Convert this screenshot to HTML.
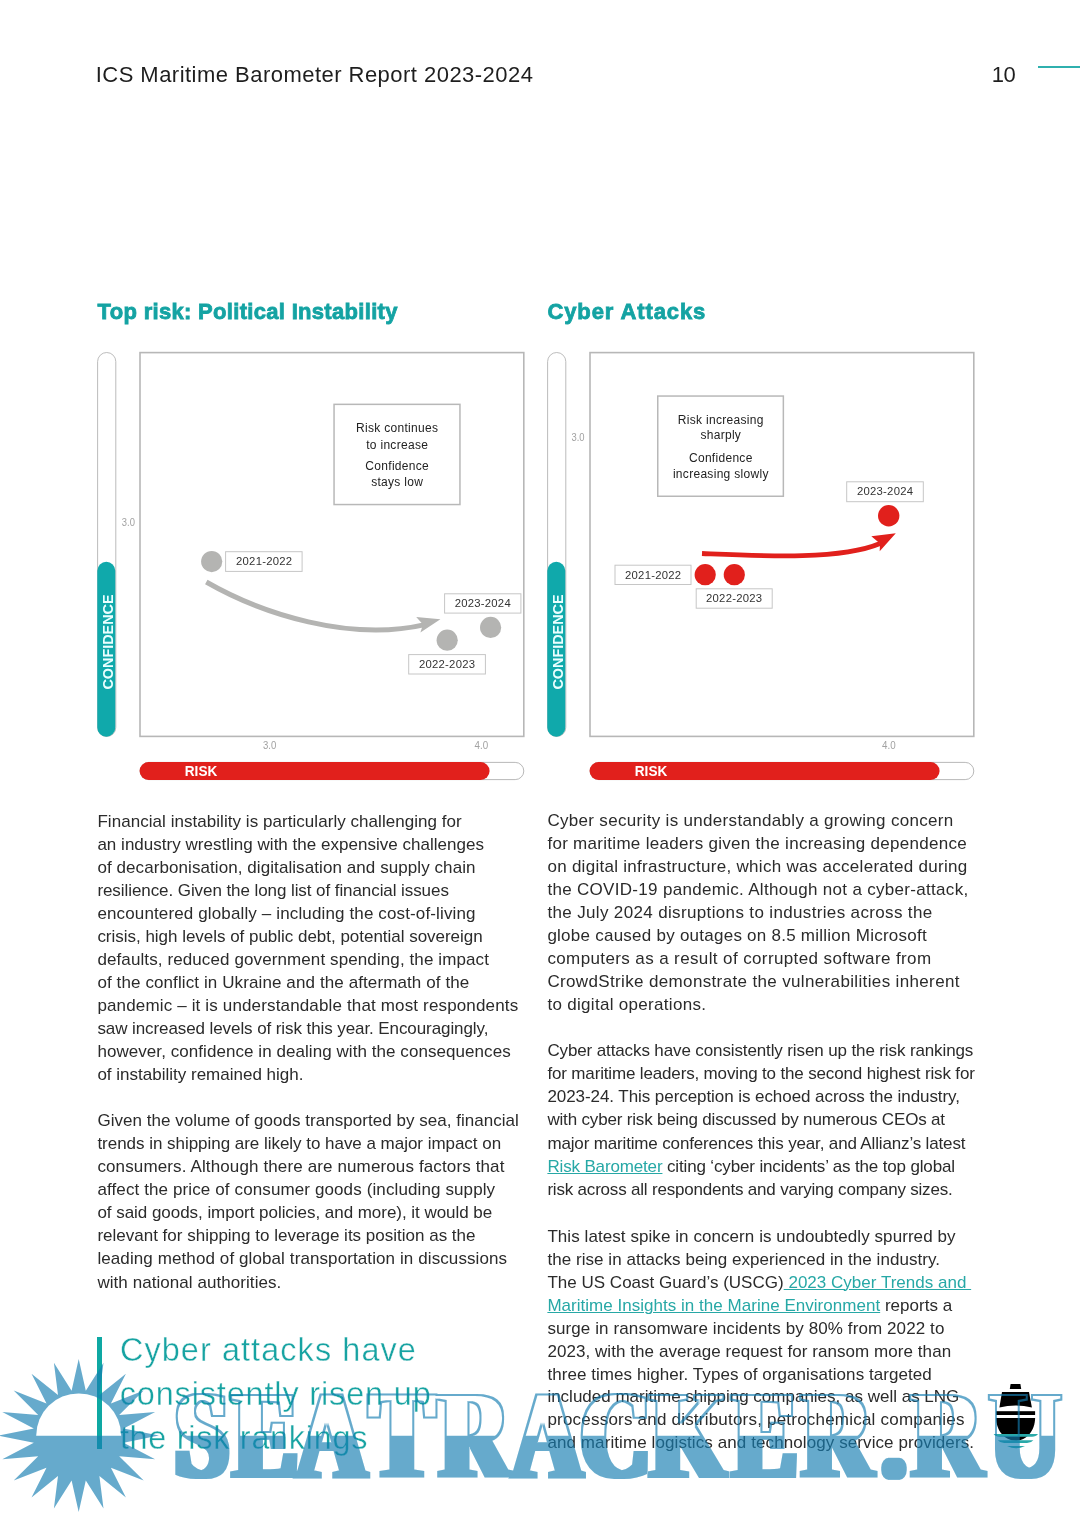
<!DOCTYPE html>
<html lang="en">
<head>
<meta charset="utf-8">
<title>ICS Maritime Barometer Report 2023-2024 – page 10</title>
<style>
html,body{margin:0;padding:0;background:#fff;}
body{width:1080px;height:1515px;position:relative;overflow:hidden;font-family:"Liberation Sans",sans-serif;color:#2a2a2a;}
#page{position:absolute;left:0;top:0;width:1080px;height:1515px;overflow:hidden;background:#fff;will-change:transform;}
.abs{position:absolute;white-space:nowrap;}
.hdr{font-size:22px;line-height:28px;color:#1e1e1e;}
.h2{font-weight:bold;font-size:22px;line-height:28px;color:#14a3a3;-webkit-text-stroke:0.8px #14a3a3;}
.ln{position:absolute;white-space:pre;font-size:17px;line-height:23px;color:#2b2b2b;}
.lk{color:#27a8a6;text-decoration:underline;text-decoration-thickness:1px;text-underline-offset:1.3px;}
.q{position:absolute;white-space:nowrap;font-size:32.4px;line-height:44px;color:#17a3a2;-webkit-text-stroke:0.4px #fff;}
svg{position:absolute;left:0;top:0;overflow:visible;}
svg text{font-family:"Liberation Sans",sans-serif;}
#wm text{font-family:"Liberation Serif",serif;font-weight:bold;}
</style>
</head>
<body>
<div id="page">
<div class="abs hdr" id="hdr" style="left:95.7px;top:61.4px;letter-spacing:0.47px">ICS Maritime Barometer Report 2023-2024</div>
<div class="abs hdr" id="pgn" style="left:991.8px;top:61.4px;letter-spacing:-0.6px">10</div>
<div class="abs" style="left:1038px;top:66.2px;width:42px;height:2px;background:#2fb0ae"></div>
<div class="abs h2" id="h2a" style="left:97.6px;top:298.2px;letter-spacing:0.31px">Top risk: Political Instability</div>
<div class="abs h2" id="h2b" style="left:547.4px;top:298.2px;letter-spacing:0.9px">Cyber Attacks</div>
<svg id="charts" width="1080" height="1515" viewBox="0 0 1080 1515">
<defs>
  <g id="frame">
    <!-- vertical confidence pill -->
    <rect x="97.6" y="352.5" width="18.2" height="384" rx="9.1" fill="#fff" stroke="#b4b4b4" stroke-width="0.9"/>
    <rect x="97.3" y="561.8" width="18" height="174.9" rx="9" fill="#10a9ab"/>
    <text transform="translate(113.2 689.6) rotate(-90)" font-size="15.4" font-weight="bold" fill="#eaffff" textLength="95.2" lengthAdjust="spacingAndGlyphs">CONFIDENCE</text>
    <!-- plot box -->
    <rect x="140" y="352.6" width="383.8" height="383.8" fill="none" stroke="#b7b7b7" stroke-width="1.6"/>
    <!-- risk pill -->
    <rect x="140" y="762.4" width="383.8" height="17.2" rx="8.6" fill="#fff" stroke="#b0b0b0" stroke-width="0.9"/>
    <rect x="139.6" y="762" width="350" height="18" rx="9" fill="#e1201c"/>
    <text x="184.8" y="775.5" font-size="15" font-weight="bold" fill="#fff" textLength="32.5" lengthAdjust="spacingAndGlyphs">RISK</text>
  </g>
</defs>
<!-- ================= LEFT CHART ================= -->
<use href="#frame"/>
<g font-size="10.6" fill="#a2a2a2">
  <text x="121.8" y="525.7" textLength="13.1" lengthAdjust="spacingAndGlyphs">3.0</text>
  <text x="263" y="748.8" textLength="13.3" lengthAdjust="spacingAndGlyphs">3.0</text>
  <text x="474.5" y="748.6" textLength="13.6" lengthAdjust="spacingAndGlyphs">4.0</text>
</g>
<rect x="334.05" y="404.35" width="125.9" height="100.2" fill="#fff" stroke="#b8b8b8" stroke-width="1.5"/>
<g font-size="12" fill="#222" text-anchor="middle" letter-spacing="0.3">
  <text x="397.2" y="431.5">Risk continues</text>
  <text x="397.2" y="448.8">to increase</text>
  <text x="397.2" y="470">Confidence</text>
  <text x="397.2" y="485.6">stays low</text>
</g>
<path d="M206.3,582 C262,614 350,642 425,624.6" fill="none" stroke="#b4b4b2" stroke-width="5"/>
<polygon points="440.4,619.3 416.2,617 423,624.6 420.4,632.6" fill="#b4b4b2"/>
<circle cx="211.7" cy="561.6" r="10.6" fill="#b4b4b2"/>
<circle cx="447.2" cy="640.2" r="10.6" fill="#b4b4b2"/>
<circle cx="490.6" cy="627.4" r="10.6" fill="#b4b4b2"/>
<g fill="#fff" stroke="#c6c6c6" stroke-width="1">
  <rect x="225.6" y="551.7" width="76.5" height="19.7"/>
  <rect x="444.6" y="593.8" width="76.3" height="19.3"/>
  <rect x="408.7" y="654.6" width="76.7" height="19.4"/>
</g>
<g font-size="11.3" fill="#333" text-anchor="middle" letter-spacing="0.25">
  <text x="264.2" y="565.1">2021-2022</text>
  <text x="482.8" y="607">2023-2024</text>
  <text x="447.1" y="667.7">2022-2023</text>
</g>
<!-- ================= RIGHT CHART ================= -->
<use href="#frame" x="450"/>
<g font-size="10.6" fill="#a2a2a2">
  <text x="571.4" y="440.7" textLength="13.1" lengthAdjust="spacingAndGlyphs">3.0</text>
  <text x="882" y="748.6" textLength="13.6" lengthAdjust="spacingAndGlyphs">4.0</text>
</g>
<rect x="657.75" y="396.05" width="125.6" height="100.2" fill="#fff" stroke="#b8b8b8" stroke-width="1.5"/>
<g font-size="12" fill="#222" text-anchor="middle" letter-spacing="0.3">
  <text x="720.8" y="423.7">Risk increasing</text>
  <text x="720.8" y="439.3">sharply</text>
  <text x="720.8" y="461.8">Confidence</text>
  <text x="720.8" y="477.8">increasing slowly</text>
</g>
<path d="M702,553.5 C760,556 840,560.5 880,543.5" fill="none" stroke="#e1201c" stroke-width="4.8"/>
<polygon points="895.8,533.3 871.3,536.2 880,543.5 879.7,551.3" fill="#e1201c"/>
<circle cx="705.2" cy="574.7" r="10.6" fill="#e1201c"/>
<circle cx="734.3" cy="574.7" r="10.6" fill="#e1201c"/>
<circle cx="888.7" cy="515.8" r="10.7" fill="#e1201c"/>
<g fill="#fff" stroke="#c6c6c6" stroke-width="1">
  <rect x="615" y="565.2" width="76" height="19.3"/>
  <rect x="696.2" y="588.8" width="76" height="19.4"/>
  <rect x="846.7" y="481.8" width="76.6" height="19.9"/>
</g>
<g font-size="11.3" fill="#333" text-anchor="middle" letter-spacing="0.25">
  <text x="653.2" y="578.7">2021-2022</text>
  <text x="734.2" y="602">2022-2023</text>
  <text x="885.1" y="495">2023-2024</text>
</g>
</svg>
<div class="ln" style="left:97.4px;top:810px;letter-spacing:0.048px">Financial instability is particularly challenging for</div>
<div class="ln" style="left:97.4px;top:833px;letter-spacing:0.021px">an industry wrestling with the expensive challenges</div>
<div class="ln" style="left:97.4px;top:856px;letter-spacing:0.077px">of decarbonisation, digitalisation and supply chain</div>
<div class="ln" style="left:97.4px;top:879px;letter-spacing:-0.076px">resilience. Given the long list of financial issues</div>
<div class="ln" style="left:97.4px;top:902px;letter-spacing:0.134px">encountered globally – including the cost-of-living</div>
<div class="ln" style="left:97.4px;top:925px;letter-spacing:-0.022px">crisis, high levels of public debt, potential sovereign</div>
<div class="ln" style="left:97.4px;top:948px;letter-spacing:0.104px">defaults, reduced government spending, the impact</div>
<div class="ln" style="left:97.4px;top:971px;letter-spacing:0.105px">of the conflict in Ukraine and the aftermath of the</div>
<div class="ln" style="left:97.4px;top:994px;letter-spacing:0.150px">pandemic – it is understandable that most respondents</div>
<div class="ln" style="left:97.4px;top:1017px;letter-spacing:-0.087px">saw increased levels of risk this year. Encouragingly,</div>
<div class="ln" style="left:97.4px;top:1040px;letter-spacing:0.061px">however, confidence in dealing with the consequences</div>
<div class="ln" style="left:97.4px;top:1063px;letter-spacing:0.003px">of instability remained high.</div>
<div class="ln" style="left:97.4px;top:1109px;letter-spacing:0.035px">Given the volume of goods transported by sea, financial</div>
<div class="ln" style="left:97.4px;top:1132px;letter-spacing:-0.031px">trends in shipping are likely to have a major impact on</div>
<div class="ln" style="left:97.4px;top:1155px;letter-spacing:0.127px">consumers. Although there are numerous factors that</div>
<div class="ln" style="left:97.4px;top:1178px;letter-spacing:0.115px">affect the price of consumer goods (including supply</div>
<div class="ln" style="left:97.4px;top:1201px;letter-spacing:-0.039px">of said goods, import policies, and more), it would be</div>
<div class="ln" style="left:97.4px;top:1224px;letter-spacing:0.002px">relevant for shipping to leverage its position as the</div>
<div class="ln" style="left:97.4px;top:1247px;letter-spacing:0.098px">leading method of global transportation in discussions</div>
<div class="ln" style="left:97.4px;top:1271px;letter-spacing:0.060px">with national authorities.</div>
<div class="ln" style="left:547.4px;top:809px;letter-spacing:0.319px">Cyber security is understandably a growing concern</div>
<div class="ln" style="left:547.4px;top:832px;letter-spacing:0.291px">for maritime leaders given the increasing dependence</div>
<div class="ln" style="left:547.4px;top:855px;letter-spacing:0.286px">on digital infrastructure, which was accelerated during</div>
<div class="ln" style="left:547.4px;top:878px;letter-spacing:0.308px">the COVID-19 pandemic. Although not a cyber-attack,</div>
<div class="ln" style="left:547.4px;top:901px;letter-spacing:0.351px">the July 2024 disruptions to industries across the</div>
<div class="ln" style="left:547.4px;top:924px;letter-spacing:0.249px">globe caused by outages on 8.5 million Microsoft</div>
<div class="ln" style="left:547.4px;top:947px;letter-spacing:0.384px">computers as a result of corrupted software from</div>
<div class="ln" style="left:547.4px;top:970px;letter-spacing:0.354px">CrowdStrike demonstrate the vulnerabilities inherent</div>
<div class="ln" style="left:547.4px;top:993px;letter-spacing:0.307px">to digital operations.</div>
<div class="ln" style="left:547.4px;top:1039px;letter-spacing:-0.120px">Cyber attacks have consistently risen up the risk rankings</div>
<div class="ln" style="left:547.4px;top:1062px;letter-spacing:-0.156px">for maritime leaders, moving to the second highest risk for</div>
<div class="ln" style="left:547.4px;top:1085px;letter-spacing:-0.065px">2023-24. This perception is echoed across the industry,</div>
<div class="ln" style="left:547.4px;top:1108px;letter-spacing:-0.172px">with cyber risk being discussed by numerous CEOs at</div>
<div class="ln" style="left:547.4px;top:1132px;letter-spacing:-0.152px">major maritime conferences this year, and Allianz’s latest</div>
<div class="ln" style="left:547.4px;top:1155px;letter-spacing:-0.150px"><span class="lk">Risk Barometer</span> citing ‘cyber incidents’ as the top global</div>
<div class="ln" style="left:547.4px;top:1178px;letter-spacing:-0.197px">risk across all respondents and varying company sizes.</div>
<div class="ln" style="left:547.4px;top:1225px;letter-spacing:0.069px">This latest spike in concern is undoubtedly spurred by</div>
<div class="ln" style="left:547.4px;top:1248px;letter-spacing:0.050px">the rise in attacks being experienced in the industry.</div>
<div class="ln" style="left:547.4px;top:1271px;letter-spacing:0.015px">The US Coast Guard’s (USCG)<span class="lk"> 2023 Cyber Trends and </span></div>
<div class="ln" style="left:547.4px;top:1294px;letter-spacing:0.026px"><span class="lk">Maritime Insights in the Marine Environment</span> reports a</div>
<div class="ln" style="left:547.4px;top:1317px;letter-spacing:0.101px">surge in ransomware incidents by 80% from 2022 to</div>
<div class="ln" style="left:547.4px;top:1340px;letter-spacing:0.061px">2023, with the average request for ransom more than</div>
<div class="ln" style="left:547.4px;top:1363px;letter-spacing:0.058px">three times higher. Types of organisations targeted</div>
<div class="ln" style="left:547.4px;top:1385px;letter-spacing:-0.001px">included maritime shipping companies, as well as LNG</div>
<div class="ln" style="left:547.4px;top:1408px;letter-spacing:0.210px">processors and distributors, petrochemical companies</div>
<div class="ln" style="left:547.4px;top:1431px;letter-spacing:0.094px">and maritime logistics and technology service providers.</div>
<div class="abs" style="left:97.2px;top:1336.9px;width:4.8px;height:112px;background:#0ea8a3"></div>
<div class="q" id="q1" style="left:119.9px;top:1327.9px;letter-spacing:1.1px">Cyber attacks have</div>
<div class="q" id="q2" style="left:119.7px;top:1372.4px;letter-spacing:0.88px">consistently risen up</div>
<div class="q" id="q3" style="left:119.9px;top:1416.4px;letter-spacing:0.73px">the risk rankings</div>
<svg id="ship" width="1080" height="1515" viewBox="0 0 1080 1515">
<g fill="#000">
  <path d="M1010.6,1384.1 L1020.4,1384.1 L1021.2,1389 L1009.8,1389 Z"/>
  <path d="M1002,1392 L1029,1392 L1031.9,1407.6 Q1015.6,1403.2 999.4,1407.6 Z"/>
  <rect x="996.1" y="1411.2" width="39" height="3.8"/>
  <path d="M996.1,1418.1 L1035.1,1418.1 C1035.1,1430 1027,1440.8 1015.6,1440.8 C1004.2,1440.8 996.1,1430 996.1,1418.1 Z"/>
</g>
<g fill="#2aa9a8">
  <path d="M993.6,1434 L1038,1434 Q1036,1436.8 1032,1436.8 L999.6,1436.8 Q995.6,1436.8 993.6,1434 Z"/>
  <path d="M997.8,1440.3 L1033.4,1440.3 Q1031,1443.1 1027,1443.1 L1004.2,1443.1 Q1000.2,1443.1 997.8,1440.3 Z"/>
  <path d="M1007,1446 L1025,1446 Q1016,1450.5 1007,1446 Z"/>
</g>
</svg>
<svg id="wm" width="1080" height="1515" viewBox="0 0 1080 1515">
<defs>
  <text id="wmt" transform="scale(0.765 1)" x="229.1 305.1 387.8 483.5 575.3 670.1 759.4 850.5 958.2 1049.1 1153.0 1192.9 1294.7" y="1476.6" font-size="125.2">SEATRACKER.RU</text>
  <clipPath id="tophalf"><rect x="0" y="1300" width="1080" height="135.7"/></clipPath>
  <filter id="fat" filterUnits="userSpaceOnUse" x="0" y="1300" width="1080" height="215"><feMorphology operator="dilate" radius="5 1"/></filter>
  <filter id="fatin" filterUnits="userSpaceOnUse" x="0" y="1300" width="1080" height="215"><feMorphology operator="dilate" radius="5 1"/><feMorphology operator="erode" radius="2"/></filter>
  <mask id="wmm" maskUnits="userSpaceOnUse" x="0" y="1300" width="1080" height="215">
    <rect x="0" y="1300" width="1080" height="215" fill="#000"/>
    <polygon points="78.7,1359.1 85.8,1390.7 103.5,1362.8 99.4,1395.1 125.9,1373.7 110.9,1403.4 143.7,1390.6 119.2,1414.9 155.1,1412.0 123.6,1428.5 159.0,1435.6 123.6,1442.7 155.1,1459.2 119.2,1456.3 143.7,1480.6 110.9,1467.8 125.9,1497.5 99.4,1476.1 103.5,1508.4 85.8,1480.5 78.7,1512.1 71.6,1480.5 53.9,1508.4 58.0,1476.1 31.5,1497.5 46.5,1467.8 13.7,1480.6 38.2,1456.3 2.3,1459.2 33.8,1442.7 -1.6,1435.6 33.8,1428.5 2.3,1412.0 38.2,1414.9 13.7,1390.6 46.5,1403.4 31.5,1373.7 58.0,1395.1 53.9,1362.8 71.6,1390.7" fill="#fff"/>
    <path d="M36.2,1435.7 A42.5,42.3 0 0 1 121.2,1435.7 Z" fill="#000"/>
    <g filter="url(#fat)"><use href="#wmt" fill="#fff"/></g>
    <g clip-path="url(#tophalf)"><g filter="url(#fatin)"><use href="#wmt" fill="#000"/></g></g>
  </mask>
</defs>
<rect x="0" y="1300" width="1080" height="215" fill="rgb(21,126,178)" opacity="0.65" mask="url(#wmm)"/>
</svg>
</div>
</body>
</html>
